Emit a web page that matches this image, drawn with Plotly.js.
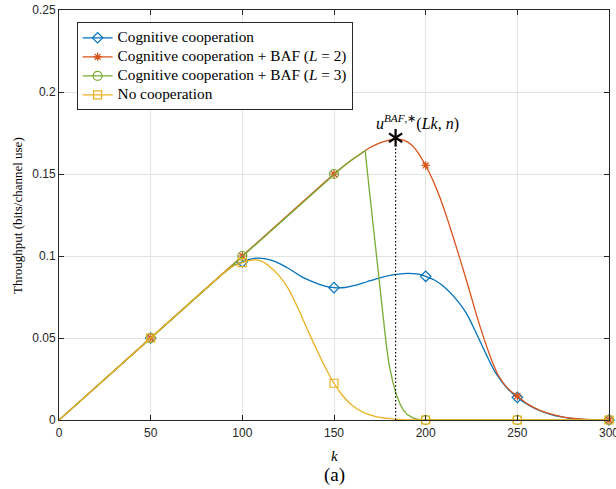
<!DOCTYPE html>
<html>
<head>
<meta charset="utf-8">
<script src="https://cdn.plot.ly/plotly-3.0.1.min.js"></script>
<style>html,body{margin:0;padding:0;background:#fff;}#chart{width:616px;height:489px;}</style>
</head>
<body>
<div id="chart"></div>
<script>
// ---- data ----
var seriesNames = [
  "Cognitive cooperation",
  "Cognitive cooperation + BAF (<i>L</i> = 2)",
  "Cognitive cooperation + BAF (<i>L</i> = 3)",
  "No cooperation"
];
var markerK = [50, 100, 150, 200, 250, 300];

var blueK = [0, 50, 90, 95, 100, 104, 108, 112, 118, 125, 132, 140, 145, 150, 156, 162, 168, 175, 182, 190, 196, 200, 205, 210, 216, 222, 228, 233, 238, 244, 250, 256, 262, 268, 275, 282, 290, 300];
var blueY = [0, 0.05, 0.0898, 0.0940, 0.0964, 0.0980, 0.0987, 0.0984, 0.0966, 0.0925, 0.0876, 0.0836, 0.0816, 0.0807, 0.0808, 0.0822, 0.0843, 0.0867, 0.0885, 0.0894, 0.0889, 0.0876, 0.0852, 0.0812, 0.0745, 0.0655, 0.0520, 0.0400, 0.0290, 0.0200, 0.0138, 0.0092, 0.0058, 0.0035, 0.0017, 0.0007, 0.0002, 0];

var orangeK = [0, 50, 100, 150, 155, 160, 165, 170, 175, 180, 184, 188, 192, 196, 200, 204, 208, 212, 216, 220, 224, 228, 232, 236, 240, 245, 250, 256, 262, 268, 275, 282, 290, 300];
var orangeY = [0, 0.05, 0.1, 0.15, 0.1546, 0.1588, 0.1627, 0.1663, 0.1690, 0.1707, 0.1712, 0.1706, 0.1680, 0.1628, 0.1552, 0.1460, 0.1350, 0.1220, 0.1080, 0.0935, 0.0785, 0.0630, 0.0490, 0.0365, 0.0265, 0.0190, 0.0145, 0.0095, 0.0060, 0.0037, 0.0018, 0.0008, 0.0002, 0];

var greenK = [0, 50, 100, 150, 155, 160, 165, 167, 169, 171, 173, 175, 177, 178.5, 180, 182, 184, 186, 188, 190, 193, 196, 200, 250, 300];
var greenY = [0, 0.05, 0.1, 0.15, 0.1546, 0.1588, 0.1627, 0.1643, 0.1430, 0.1220, 0.1020, 0.0830, 0.0610, 0.0460, 0.0340, 0.0235, 0.0155, 0.0098, 0.0058, 0.0033, 0.0013, 0.0004, 0, 0, 0];

var yellowK = [0, 50, 90, 95, 100, 104, 107, 110, 115, 120, 125, 130, 134, 138, 142, 146, 150, 155, 160, 165, 170, 176, 183, 190, 200, 250, 300];
var yellowY = [0, 0.05, 0.0898, 0.0938, 0.0960, 0.0973, 0.0976, 0.0970, 0.0935, 0.0880, 0.0803, 0.0690, 0.0590, 0.0490, 0.0395, 0.0305, 0.0224, 0.0145, 0.0088, 0.0052, 0.0030, 0.0014, 0.0005, 0.0001, 0, 0, 0];

var starK = [183.6];
var starY = [0.1721];
var starLabel = "<i>u</i><sup><i>BAF</i>,∗</sup>(<i>Lk</i>, <i>n</i>)";

var xTicks = [0, 50, 100, 150, 200, 250, 300];
var yTicks = [0, 0.05, 0.1, 0.15, 0.2, 0.25];
var yTickText = ["0", "0.05", "0.1", "0.15", "0.2", "0.25"];

// ---- styling ----
var colors = ["#0072BD", "#D95319", "#77AC30", "#EDB120"];
var symbols = ["diamond-open", "asterisk-open", "circle-open", "square-open"];
var msizes = [8, 7, 9, 8];
var allK = [blueK, orangeK, greenK, yellowK];
var allY = [blueY, orangeY, greenY, yellowY];
var shapes = ["spline", "spline", "linear", "spline"];

function pickMarkers(ks, ys) {
  var mx = [], my = [];
  for (var i = 0; i < ks.length; i++) {
    if (markerK.indexOf(ks[i]) >= 0) { mx.push(ks[i]); my.push(ys[i]); }
  }
  return {x: mx, y: my};
}

var traces = [];
// legend-only entries
for (var s = 0; s < 4; s++) {
  traces.push({
    x: [null], y: [null], type: "scatter", mode: "lines+markers",
    name: '<span style="font-size:15.3px">' + seriesNames[s] + '</span>',
    line: {color: colors[s], width: 1.3},
    marker: {symbol: symbols[s], size: msizes[s], color: colors[s], line: {color: colors[s], width: 1.2}},
    showlegend: true, hoverinfo: "skip"
  });
}
for (var s = 0; s < 4; s++) {
  traces.push({
    x: allK[s], y: allY[s], type: "scatter", mode: "lines", showlegend: false,
    line: {color: colors[s], width: 1.3, shape: shapes[s], smoothing: 0.8},
    cliponaxis: false, hoverinfo: "skip"
  });
  var m = pickMarkers(allK[s], allY[s]);
  traces.push({
    x: m.x, y: m.y, type: "scatter", mode: "markers", showlegend: false,
    marker: {symbol: symbols[s], size: msizes[s], color: colors[s], line: {color: colors[s], width: 1.2}},
    cliponaxis: false, hoverinfo: "skip"
  });
}
// dotted vertical line and six-armed star
traces.push({
  x: [starK[0], starK[0]], y: [0, starY[0]], type: "scatter", mode: "lines", showlegend: false,
  line: {color: "#000", width: 1.2, dash: "1.5px,2.2px"}, hoverinfo: "skip"
});
["y-up-open", "y-down-open"].forEach(function (sym) {
  traces.push({
    x: starK, y: starY, type: "scatter", mode: "markers", showlegend: false,
    marker: {symbol: sym, size: 11, color: "#000", line: {color: "#000", width: 2.2}},
    cliponaxis: false, hoverinfo: "skip"
  });
});

var axisCommon = {
  showline: true, linecolor: "#262626", linewidth: 1, mirror: "ticks",
  ticks: "inside", ticklen: 5, tickcolor: "#262626", tickwidth: 1,
  showgrid: true, gridcolor: "#e3e3e3", gridwidth: 1, zeroline: false,
  ticklabeloverflow: "allow",
  tickfont: {family: "Liberation Sans, Arial, sans-serif", size: 12, color: "#262626"}
};

var layout = {
  width: 616, height: 489,
  margin: {l: 59, r: 7, t: 10, b: 69},
  paper_bgcolor: "#fff", plot_bgcolor: "#fff",
  xaxis: Object.assign({}, axisCommon, {range: [0, 300], tickmode: "array", tickvals: xTicks, ticklabelstandoff: 2}),
  yaxis: Object.assign({}, axisCommon, {range: [0, 0.25], tickmode: "array", tickvals: yTicks, ticktext: yTickText}),
  showlegend: true,
  legend: {
    x: 0.032, y: 0.97, xanchor: "left", yanchor: "top",
    bgcolor: "#fff", bordercolor: "#262626", borderwidth: 1,
    font: {family: "Liberation Serif, Times New Roman, serif", size: 11, color: "#000"},
    itemwidth: 30, traceorder: "normal"
  },
  annotations: [
    {x: 195.8, y: 0.1817, xref: "x", yref: "y", text: starLabel, showarrow: false,
     font: {family: "Liberation Serif, serif", size: 16, color: "#000"}, xanchor: "center", yanchor: "middle"},
    {x: 0.5, y: -0.0878, xref: "paper", yref: "paper", text: "<i>k</i>", showarrow: false,
     font: {family: "Liberation Serif, serif", size: 15, color: "#000"}, xanchor: "center", yanchor: "middle"},
    {x: 0.5, y: -0.134, xref: "paper", yref: "paper", text: "(a)", showarrow: false,
     font: {family: "Liberation Serif, serif", size: 19, color: "#000"}, xanchor: "center", yanchor: "middle"},
    {x: -0.0764, y: 0.5, xref: "paper", yref: "paper", text: "Throughput (bits/channel use)", showarrow: false,
     textangle: -90, font: {family: "Liberation Serif, serif", size: 13, color: "#000"}, xanchor: "center", yanchor: "middle"}
  ]
};

Plotly.newPlot("chart", traces, layout, {displayModeBar: false, staticPlot: true});
</script>
</body>
</html>
